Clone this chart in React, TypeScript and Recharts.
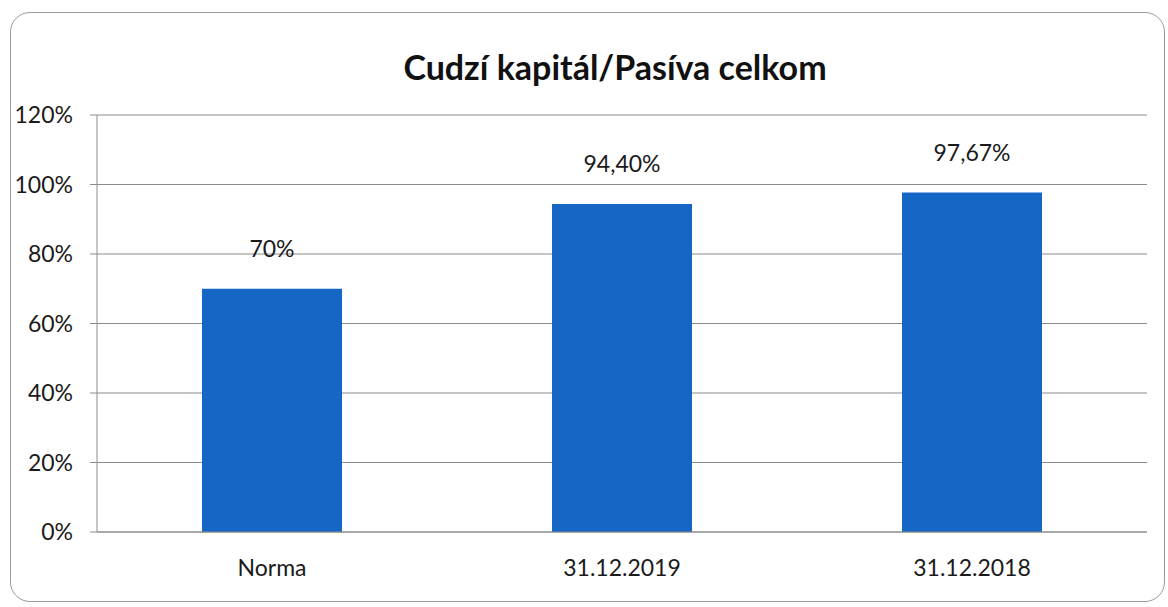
import { Bar, BarChart, CartesianGrid, LabelList, XAxis, YAxis } from 'recharts'

const categories = ['Norma', '31.12.2019', '31.12.2018']
const values = [70, 94.4, 97.67]
const valueLabels = ['70%', '94,40%', '97,67%']
const yTicks = [0, 20, 40, 60, 80, 100, 120]

const BAR_COLOR = '#1666c5'
const FONT = 'Lato, "Open Sans", sans-serif'

export default function App() {
  const data = categories.map((name, i) => ({
    name,
    value: values[i],
    label: valueLabels[i],
  }))

  return (
    <div
      style={{
        position: 'fixed',
        left: 0,
        top: 0,
        width: 1168,
        height: 607,
        background: '#fff',
        fontFamily: FONT,
      }}
    >
      <div
        style={{
          position: 'absolute',
          left: 10,
          top: 12,
          width: 1153,
          height: 588,
          border: '1.5px solid #9a9a9a',
          borderRadius: 20,
        }}
      />
      <div
        style={{
          position: 'absolute',
          left: 0,
          top: 46,
          width: 1230,
          textAlign: 'center',
          fontSize: 34,
          fontWeight: 700,
          color: '#111',
        }}
      >
        Cudzí kapitál/Pasíva celkom
      </div>
      <div style={{ position: 'absolute', left: 0, top: 0 }}>
        <BarChart
          width={1168}
          height={607}
          data={data}
          margin={{ top: 115, right: 21, left: 0, bottom: 45 }}
          barCategoryGap="30%"
        >
          <CartesianGrid vertical={false} stroke="#8c8c8c" strokeWidth={1.2} />
          <XAxis
            dataKey="name"
            height={30}
            axisLine={{ stroke: '#8c8c8c' }}
            tickLine={false}
            tickMargin={22}
            tick={{ fill: '#1a1a1a', fontSize: 23, fontFamily: FONT }}
          />
          <YAxis
            width={97}
            domain={[0, 120]}
            ticks={yTicks}
            tickFormatter={(v) => `${v}%`}
            axisLine={{ stroke: '#8c8c8c' }}
            tickLine={{ stroke: '#8c8c8c' }}
            tickSize={7}
            tickMargin={17}
            tick={{ fill: '#1a1a1a', fontSize: 23, fontFamily: FONT }}
          />
          <Bar dataKey="value" fill={BAR_COLOR} barSize={140} isAnimationActive={false}>
            <LabelList
              dataKey="label"
              position="top"
              offset={32}
              style={{ fill: '#1a1a1a', fontSize: 23, fontFamily: FONT }}
            />
          </Bar>
        </BarChart>
      </div>
    </div>
  )
}
